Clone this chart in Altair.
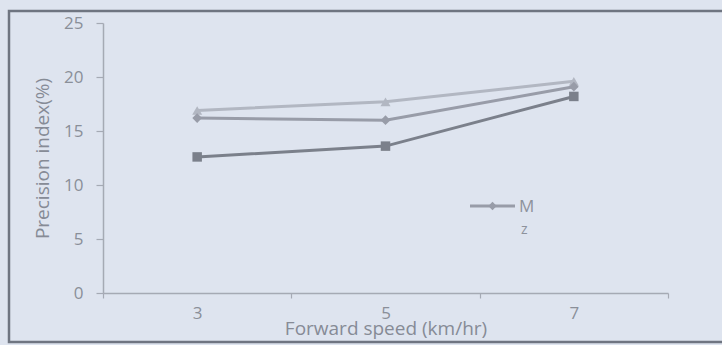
import altair as alt
import pandas as pd

# ---- data ----
speeds = ["3", "5", "7"]
series_names = ["M1", "Mz", "M3"]
m1_values = [16.9, 17.7, 19.6]   # light line, triangles
mz_values = [16.2, 16.0, 19.1]   # medium line, diamonds
m3_values = [12.6, 13.6, 18.2]   # dark line, squares
y_ticks = [0, 5, 10, 15, 20, 25]
legend_main = ["M"]
legend_sub = ["z"]

rows = []
for name, vals in zip(series_names, [m1_values, mz_values, m3_values]):
    for s, v in zip(speeds, vals):
        rows.append({"speed": s, "series": name, "value": v})
df = pd.DataFrame(rows)

colors = ["#b2b7c2", "#989ca8", "#7b808b"]
shapes = ["triangle-up", "diamond", "square"]
FONT = "Open Sans"
LEG_COLOR = "#989ca8"

x_enc = alt.X(
    "speed:O",
    sort=speeds,
    scale=alt.Scale(type="band", paddingInner=0, paddingOuter=0),
    axis=alt.Axis(
        title="Forward speed (km/hr)",
        labelAngle=0,
        tickBand="extent",
        tickSize=5,
        labelPadding=7,
        titleY=26,
        titleBaseline="top",
    ),
)
y_enc = alt.Y(
    "value:Q",
    scale=alt.Scale(domain=[0, 25], nice=False),
    axis=alt.Axis(
        title="Precision index(%)",
        values=y_ticks,
        tickSize=7,
        labelPadding=13,
        grid=False,
        titleX=-61,
        titleY=135,
        titleAngle=270,
        titleAlign="center",
        titleBaseline="middle",
    ),
)

base = alt.Chart(df)
lines = base.mark_line(strokeWidth=3).encode(
    x=x_enc,
    y=y_enc,
    color=alt.Color("series:N", scale=alt.Scale(domain=series_names, range=colors), legend=None),
)
points = base.mark_point(filled=True, opacity=1).encode(
    x=x_enc,
    y=y_enc,
    color=alt.Color("series:N", scale=alt.Scale(domain=series_names, range=colors), legend=None),
    shape=alt.Shape("series:N", scale=alt.Scale(domain=series_names, range=shapes), legend=None),
    size=alt.Size("series:N", scale=alt.Scale(domain=series_names, range=[100, 90, 190]), legend=None),
)

# hand-made legend entry (as in the reference: a single entry, label wrapped)
leg_df = pd.DataFrame({"main": legend_main, "sub": legend_sub})
leg = alt.Chart(leg_df)
leg_line = leg.mark_rule(stroke=LEG_COLOR, strokeWidth=3).encode(
    x=alt.value(367), x2=alt.value(412), y=alt.value(183)
)
leg_mark = leg.mark_point(shape="diamond", filled=True, color=LEG_COLOR, opacity=1, size=70).encode(
    x=alt.value(389.5), y=alt.value(183)
)
leg_text = leg.mark_text(
    align="left", baseline="middle", font=FONT, fontSize=17, color="#8d929c"
).encode(x=alt.value(416), y=alt.value(184), text="main:N")
leg_sub = leg.mark_text(
    align="left", baseline="middle", font=FONT, fontSize=14, color="#8d929c"
).encode(x=alt.value(418), y=alt.value(207), text="sub:N")

frame = alt.Chart(pd.DataFrame({"f": [0]})).mark_rect(
    fill=None, stroke="#6f7581", strokeWidth=2.5, clip=False
).encode(
    x=alt.value(-94), x2=alt.value(660), y=alt.value(-12), y2=alt.value(319)
)

chart = (
    alt.layer(frame, lines, points, leg_line, leg_mark, leg_text, leg_sub)
    .properties(
        width=565,
        height=270,
        background="#dee4ef",
        padding={"left": 103, "top": 23, "right": 54, "bottom": 52},
        autosize=alt.AutoSizeParams(type="none"),
    )
    .configure_view(stroke=None)
    .configure_axis(
        domainColor="#a5aab4",
        domainWidth=1.5,
        tickColor="#a5aab4",
        tickWidth=1.2,
        labelColor="#8a8f99",
        labelFont=FONT,
        labelFontSize=17,
        titleColor="#868b96",
        titleFont=FONT,
        titleFontSize=19,
        titleFontWeight="normal",
    )
)

chart.save("out.html", embed_options={"renderer": "svg", "actions": False})
